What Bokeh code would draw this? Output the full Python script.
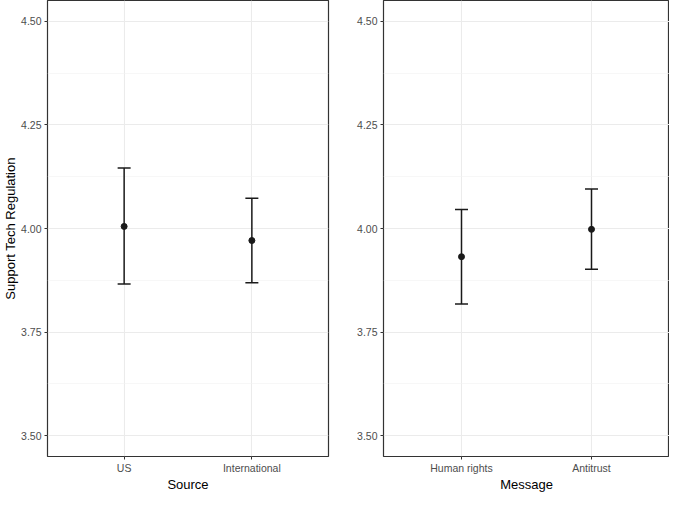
from bokeh.plotting import figure
from bokeh.models import (ColumnDataSource, Whisker, TeeHead, FixedTicker, Range1d,
                          NumeralTickFormatter)
from bokeh.layouts import row
from bokeh.embed import file_html
from bokeh.resources import INLINE

# Data
source_cats = ["US", "International"]
source_mean = [4.005, 3.971]
source_lower = [3.866, 3.869]
source_upper = [4.146, 4.073]

message_cats = ["Human rights", "Antitrust"]
message_mean = [3.932, 3.998]
message_lower = [3.818, 3.902]
message_upper = [4.046, 4.095]

y_ticks = [3.5, 3.75, 4.0, 4.25, 4.5]
y_minor = [3.625, 3.875, 4.125, 4.375]

FONT = "Liberation Sans"


def make_panel(cats, mean, lower, upper, xlabel, ylabel, width, left_border, right_border):
    p = figure(width=width, height=494, output_backend="svg", toolbar_location=None,
               x_range=Range1d(0.4, len(cats) + 0.6), y_range=Range1d(3.45, 4.55),
               min_border_top=0, min_border_left=left_border, min_border_right=right_border,
               min_border_bottom=0)
    xs = [i + 1 for i in range(len(cats))]
    src = ColumnDataSource(dict(x=xs, mean=mean, lower=lower, upper=upper))

    p.background_fill_color = "white"
    p.border_fill_color = "white"
    p.outline_line_color = "#333333"
    p.outline_line_width = 1.2

    # grids
    p.xaxis.ticker = FixedTicker(ticks=xs)
    p.xaxis.major_label_overrides = {x: c for x, c in zip(xs, cats)}
    p.yaxis.ticker = FixedTicker(ticks=y_ticks, minor_ticks=y_minor)
    p.yaxis.formatter = NumeralTickFormatter(format="0.00")
    p.xgrid.grid_line_color = "#EBEBEB"
    p.xgrid.grid_line_width = 1.1
    p.ygrid.grid_line_color = "#EBEBEB"
    p.ygrid.grid_line_width = 1.1
    p.ygrid.minor_grid_line_color = "#F2F2F2"
    p.ygrid.minor_grid_line_width = 0.6

    for ax in (p.xaxis, p.yaxis):
        ax.axis_line_color = None
        ax.major_tick_line_color = "#333333"
        ax.major_tick_in = 0
        ax.major_tick_out = 3
        ax.minor_tick_line_color = None
        ax.major_label_text_font = FONT
        ax.major_label_text_font_size = "10.5px"
        ax.major_label_text_color = "#4D4D4D"
        ax.major_label_standoff = 2
        ax.axis_label_text_font = FONT
        ax.axis_label_text_font_size = "13px"
        ax.axis_label_text_font_style = "normal"
        ax.axis_label_text_color = "black"
        ax.axis_label_standoff = 0
    p.xaxis.axis_label = xlabel
    if ylabel:
        p.yaxis.axis_label = ylabel

    w = Whisker(base="x", lower="lower", upper="upper", source=src, dimension="height",
                line_color="#1A1A1A", line_width=1.5,
                lower_head=TeeHead(size=13, line_color="#1A1A1A", line_width=1.5),
                upper_head=TeeHead(size=13, line_color="#1A1A1A", line_width=1.5))
    p.add_layout(w)
    p.scatter("x", "mean", source=src, size=6, color="#1A1A1A")
    return p


p1 = make_panel(source_cats, source_mean, source_lower, source_upper,
                "Source", "Support Tech Regulation", 330, 30, 2)
p2 = make_panel(message_cats, message_mean, message_lower, message_upper,
                "Message", None, 339, 53, 0)

layout = row(p1, p2, spacing=0)
open("out.html", "w").write(file_html(layout, INLINE))
